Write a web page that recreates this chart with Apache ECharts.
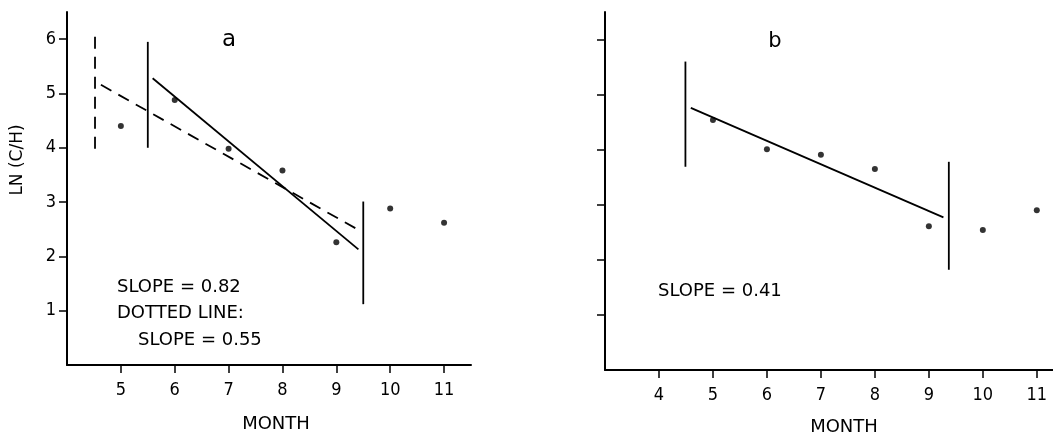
<!DOCTYPE html>
<html>
<head>
<meta charset="utf-8">
<script src="https://cdn.jsdelivr.net/npm/echarts@6/dist/echarts.min.js"></script>
<style>
html,body{margin:0;padding:0;background:#fff;}
#chart{width:1053px;height:437px;}
</style>
</head>
<body>
<div id="chart"></div>
<script>
// ---- data ----
const months = [5, 6, 7, 8, 9, 10, 11];
const lnA = [4.40, 4.88, 3.98, 3.58, 2.26, 2.88, 2.62];
const lnB = [4.54, 4.01, 3.91, 3.65, 2.61, 2.54, 2.90];

// fitted lines (endpoints)
const fitASolid = [[5.59, 5.28], [9.41, 2.13]];
const fitADashed = [[4.63, 5.16], [9.37, 2.51]];
const fitB = [[4.59, 4.76], [9.27, 2.77]];

// vertical boundary markers
const boundADashed = [[4.52, 3.98], [4.52, 6.09]];
const boundASolid1 = [[5.5, 4.0], [5.5, 5.95]];
const boundASolid2 = [[9.5, 1.12], [9.5, 3.01]];
const boundB1 = [[4.49, 3.69], [4.49, 5.6]];
const boundB2 = [[9.37, 1.82], [9.37, 3.78]];

const yTicks = [1, 2, 3, 4, 5, 6];
const xTicksA = [5, 6, 7, 8, 9, 10, 11];
const xTicksB = [4, 5, 6, 7, 8, 9, 10, 11];

const NARROW = "'DejaVu Sans Condensed', 'DejaVu Sans', sans-serif";
const FONT = "'DejaVu Sans', sans-serif";
const INK = '#000';

const ptsA = months.map((m, i) => [m, lnA[i]]);
const ptsB = months.map((m, i) => [m, lnB[i]]);

function xAxis(gridIndex, min, max, shown) {
  return {
    type: 'value', gridIndex, min, max, interval: 1,
    splitLine: { show: false },
    axisLine: { lineStyle: { color: INK, width: 2 } },
    axisTick: { inside: false, length: 8, lineStyle: { color: INK, width: 1.5 },
      customValues: shown },
    axisLabel: { color: INK, fontFamily: NARROW, fontSize: 18, margin: 16,
      customValues: shown,
      formatter: v => shown.includes(v) ? String(v) : '' }
  };
}
function yAxis(gridIndex, showLabels) {
  return {
    type: 'value', gridIndex, min: 0, max: 6.5, interval: 1,
    splitLine: { show: false },
    axisLine: { lineStyle: { color: INK, width: 2 } },
    axisTick: { inside: false, length: 8, lineStyle: { color: INK, width: 1.5 },
      customValues: yTicks },
    axisLabel: { show: showLabels, color: INK, fontFamily: NARROW, fontSize: 18, margin: 11,
      customValues: yTicks }
  };
}
function seg(xi, yi, data, dashed) {
  return {
    type: 'line', xAxisIndex: xi, yAxisIndex: yi, data,
    symbol: 'none', silent: true, animation: false,
    lineStyle: { color: INK, width: 1.8, type: dashed ? [12, 8] : 'solid' }
  };
}
function dots(xi, yi, data) {
  return {
    type: 'scatter', xAxisIndex: xi, yAxisIndex: yi, data,
    symbol: 'circle', symbolSize: 6, animation: false,
    itemStyle: { color: INK }
  };
}

const chart = echarts.init(document.getElementById('chart'));
chart.setOption({
  backgroundColor: '#fff',
  animation: false,
  grid: [
    { left: 67, top: 12, width: 404, height: 353 },
    { left: 605, top: 12, width: 448, height: 358 }
  ],
  xAxis: [xAxis(0, 4, 11.5, xTicksA), xAxis(1, 3, 11.3, xTicksB)],
  yAxis: [yAxis(0, true), yAxis(1, false)],
  series: [
    dots(0, 0, ptsA),
    seg(0, 0, fitASolid, false),
    seg(0, 0, fitADashed, true),
    seg(0, 0, boundADashed, true),
    seg(0, 0, boundASolid1, false),
    seg(0, 0, boundASolid2, false),
    dots(1, 1, ptsB),
    seg(1, 1, fitB, false),
    seg(1, 1, boundB1, false),
    seg(1, 1, boundB2, false)
  ],
  graphic: [
    { type: 'text', x: 18, y: 160, rotation: Math.PI / 2,
      style: { text: 'LN (C/H)', fill: INK, font: '17px ' + FONT, align: 'center', verticalAlign: 'middle' } },
    { type: 'text', x: 229, y: 40,
      style: { text: 'a', fill: INK, font: '23px ' + FONT, align: 'center', verticalAlign: 'middle' } },
    { type: 'text', x: 775, y: 42,
      style: { text: 'b', fill: INK, font: '21px ' + FONT, align: 'center', verticalAlign: 'middle' } },
    { type: 'text', x: 117, y: 287,
      style: { text: 'SLOPE = 0.82', fill: INK, font: '18px ' + FONT, align: 'left', verticalAlign: 'middle' } },
    { type: 'text', x: 117, y: 313,
      style: { text: 'DOTTED LINE:', fill: INK, font: '18px ' + FONT, align: 'left', verticalAlign: 'middle' } },
    { type: 'text', x: 138, y: 340,
      style: { text: 'SLOPE = 0.55', fill: INK, font: '18px ' + FONT, align: 'left', verticalAlign: 'middle' } },
    { type: 'text', x: 658, y: 291,
      style: { text: 'SLOPE = 0.41', fill: INK, font: '18px ' + FONT, align: 'left', verticalAlign: 'middle' } },
    { type: 'text', x: 276, y: 424,
      style: { text: 'MONTH', fill: INK, font: '18px ' + FONT, align: 'center', verticalAlign: 'middle' } },
    { type: 'text', x: 844, y: 427,
      style: { text: 'MONTH', fill: INK, font: '18px ' + FONT, align: 'center', verticalAlign: 'middle' } }
  ]
});
</script>
</body>
</html>
